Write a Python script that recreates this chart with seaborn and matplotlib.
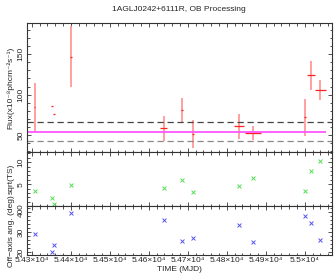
import numpy as np
import pandas as pd
import matplotlib
matplotlib.use("Agg")
import matplotlib.pyplot as plt
import seaborn as sns
from matplotlib.ticker import MultipleLocator

# ---------------------------------------------------------
# Adatok (leolvasva az ábráról)
# ---------------------------------------------------------
time_mjd = [54307, 54351, 54357, 54400, 54638, 54685, 54714, 54831, 54868, 55001, 55016, 55040]
time_err = [2, 3, 2, 2, 8, 3, 2, 12, 20, 2, 10, 15]
flux = [85, 85.4, 75.5, 147, 58.3, 80.9, 51.2, 60.7, 52.5, 71.8, 123.7, 105.5]
flux_err = [29.7, 0, 0, 38, 15, 14.5, 17.5, 15, 9, 23, 18, 12]
sqrt_ts = [3.5, 1.85, 0.46, 4.77, 4.07, 6.0, 3.3, 4.54, 6.5, 3.5, 8.06, 10.3]
off_axis = [29.2, 20.0, 23.65, 39.8, 36.3, 25.8, 27.3, 33.65, 25.0, 38.3, 34.5, 26.15]

flux_mean = 53.7
flux_upper = 66.0
flux_lower = 42.2

xtick_vals = [54300, 54400, 54500, 54600, 54700, 54800, 54900, 55000]
xtick_labels = ["5.43×10⁴", "5.44×10⁴", "5.45×10⁴", "5.46×10⁴",
                "5.47×10⁴", "5.48×10⁴", "5.49×10⁴", "5.5×10⁴"]

df = pd.DataFrame({"time": time_mjd, "sqrt_ts": sqrt_ts, "off_axis": off_axis})

sns.set_theme(style="ticks")
plt.rcParams["font.family"] = ["Liberation Sans", "DejaVu Sans"]
FS = 6

fig = plt.figure(figsize=(3.34, 2.76), dpi=100)
ax1 = fig.add_axes([0.080, 0.4504, 0.913, 0.465])
ax2 = fig.add_axes([0.080, 0.2525, 0.913, 0.198], sharex=ax1)
ax3 = fig.add_axes([0.080, 0.075, 0.913, 0.1775], sharex=ax1)

# --- Flux panel ---
ax1.errorbar(time_mjd, flux, yerr=flux_err, fmt="none", ecolor="#ff9999", elinewidth=1.3)
ax1.errorbar(time_mjd, flux, xerr=time_err, fmt="none", ecolor="#ff2020", elinewidth=0.9)
ax1.axhline(flux_upper, color="#444444", lw=0.9, ls=(0, (5, 3)))
ax1.axhline(flux_lower, color="#888888", lw=0.9, ls=(0, (5, 3)))
ax1.hlines(flux_mean, 54287, time_mjd[-1] + time_err[-1], color="#ff55ff", lw=1.3)
ax1.set_ylim(29.5, 188)
ax1.yaxis.set_major_locator(MultipleLocator(50))
ax1.yaxis.set_minor_locator(MultipleLocator(10))
ax1.set_ylabel("Flux(x10⁻⁸phcm⁻²s⁻¹)", fontsize=FS, labelpad=2)
ax1.set_title("1AGLJ0242+6111R, OB Processing", fontsize=FS, pad=9)

# --- sqrt(TS) panel ---
sns.scatterplot(data=df, x="time", y="sqrt_ts", ax=ax2, marker="x", color="#55dd55",
                s=8, linewidth=0.7, legend=False)
ax2.set_ylim(0, 12.4)
ax2.yaxis.set_major_locator(MultipleLocator(5))
ax2.yaxis.set_minor_locator(MultipleLocator(1))
ax2.set_ylabel("sqrt(TS)", fontsize=FS, labelpad=2)

# --- Off-axis panel ---
sns.scatterplot(data=df, x="time", y="off_axis", ax=ax3, marker="x", color="#5555ee",
                s=8, linewidth=0.7, legend=False)
ax3.set_ylim(18.5, 43)
ax3.yaxis.set_major_locator(MultipleLocator(10))
ax3.yaxis.set_minor_locator(MultipleLocator(2))
ax3.set_ylabel("Off−axis ang. (deg)", fontsize=FS, labelpad=2)
ax3.set_xlabel("TIME (MJD)", fontsize=FS, labelpad=1)

ax1.set_xlim(54287, 55069)
ax3.set_xticks(xtick_vals)
ax3.set_xticklabels(xtick_labels)
ax3.xaxis.set_minor_locator(MultipleLocator(20))

for ax in (ax1, ax2, ax3):
    for sp in ax.spines.values():
        sp.set_color("#333333")
        sp.set_linewidth(0.8)
    ax.tick_params(which="both", direction="in", top=True, right=True,
                   color="#333333", width=0.6, pad=1.5, labelsize=FS)
    ax.tick_params(which="major", length=3)
    ax.tick_params(which="minor", length=1.8)
    ax.tick_params(axis="y", labelrotation=90)
    for lab in ax.get_yticklabels():
        lab.set_va("center")
    if ax is not ax3:
        ax.tick_params(axis="x", labelbottom=False)
        ax.set_xlabel("")

fig.savefig("out.png", dpi=100)
